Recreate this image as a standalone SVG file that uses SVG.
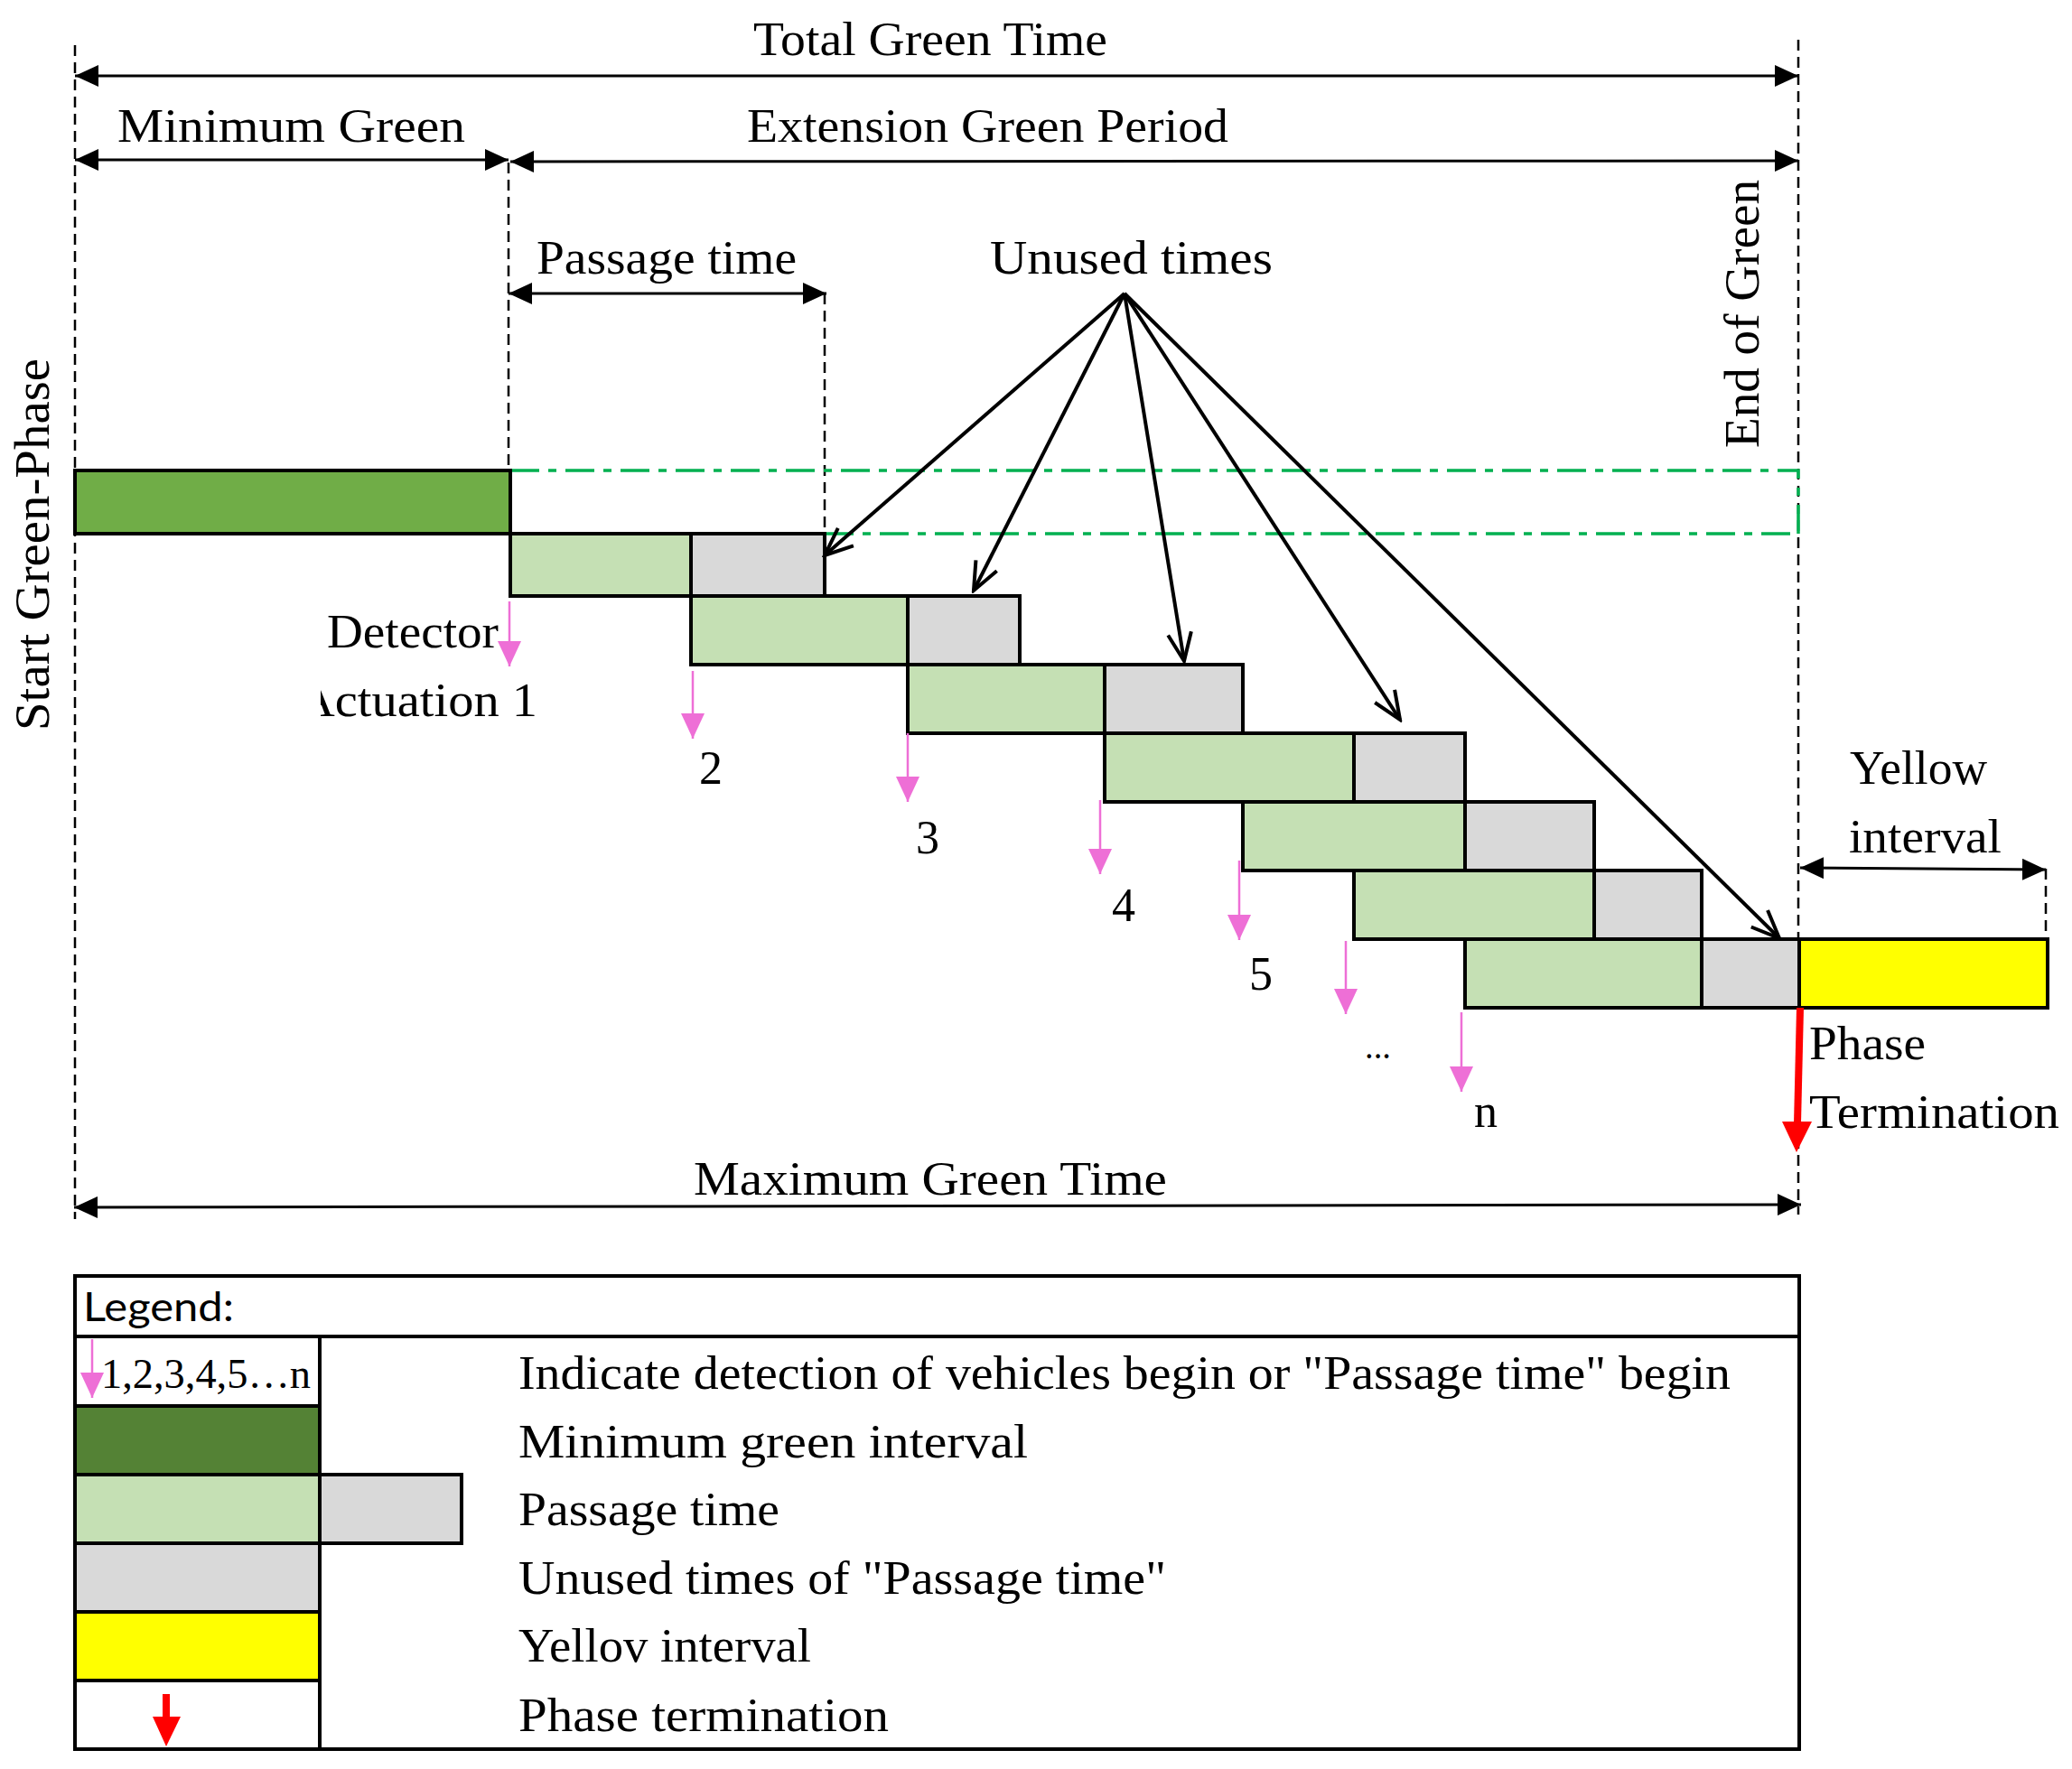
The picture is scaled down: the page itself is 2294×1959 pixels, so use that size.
<svg xmlns="http://www.w3.org/2000/svg" width="2294" height="1959" viewBox="0 0 2294 1959">
<style>
.t{font-family:"Liberation Serif",serif;font-size:52px;fill:#000}
.s{font-family:Lato,"Liberation Sans",sans-serif;font-size:44px;fill:#000}
.blk{stroke:#000;stroke-width:4}
.dg{fill:#70AD47}
.dg2{fill:#548235}
.lg{fill:#C5E0B4}
.gy{fill:#D9D9D9}
.yl{fill:#FFFF00}
.dash{stroke:#000;stroke-width:2.5;stroke-dasharray:12 7;fill:none}
.dd{stroke:#00B050;stroke-width:3.5;stroke-dasharray:32 10 9 10;fill:none}
.dim{stroke:#000;stroke-width:3;fill:none;marker-start:url(#tri);marker-end:url(#tri)}
.ptr{stroke:#000;stroke-width:4;fill:none;marker-end:url(#open)}
.pk{stroke:#EE6FD6;stroke-width:2.5;fill:none;marker-end:url(#pink)}
</style>
<defs>
<marker id="tri" markerUnits="userSpaceOnUse" viewBox="0 0 26 24" refX="26" refY="12" markerWidth="26" markerHeight="24" orient="auto-start-reverse">
<path d="M0,0 L26,12 L0,24 z" fill="#000"/>
</marker>
<marker id="open" markerUnits="userSpaceOnUse" viewBox="0 0 36 30" refX="33" refY="15" markerWidth="36" markerHeight="30" orient="auto">
<path d="M2,2 L33,15 L2,28" fill="none" stroke="#000" stroke-width="4"/>
</marker>
<marker id="pink" markerUnits="userSpaceOnUse" viewBox="0 0 28 26" refX="28" refY="13" markerWidth="28" markerHeight="26" orient="auto">
<path d="M0,0 L28,13 L0,26 z" fill="#EE6FD6"/>
</marker>
<clipPath id="actClip"><rect x="355" y="740" width="300" height="80"/></clipPath>
</defs>

<g id="guides">
<line class="dash" x1="83" y1="50" x2="83" y2="1350"/>
<line class="dash" x1="563" y1="180" x2="563" y2="591"/>
<line class="dash" x1="913" y1="325" x2="913" y2="591"/>
<line class="dash" x1="1991" y1="44" x2="1991" y2="1345"/>
<line class="dash" x1="2265" y1="962" x2="2265" y2="1040"/>
<path class="dd" d="M565,521 H1991 V591 M913,591 H1991"/>
</g>

<g id="minimum-green-bar">
<rect class="dg blk" x="83" y="521" width="482" height="70"/>
</g>

<g id="passage-rows">
<rect class="lg blk" x="565" y="591" width="200" height="69"/><rect class="gy blk" x="765" y="591" width="148" height="69"/>
<rect class="lg blk" x="765" y="660" width="240" height="76"/><rect class="gy blk" x="1005" y="660" width="124" height="76"/>
<rect class="lg blk" x="1005" y="736" width="218" height="76"/><rect class="gy blk" x="1223" y="736" width="153" height="76"/>
<rect class="lg blk" x="1223" y="812" width="276" height="76"/><rect class="gy blk" x="1499" y="812" width="123" height="76"/>
<rect class="lg blk" x="1376" y="888" width="246" height="76"/><rect class="gy blk" x="1622" y="888" width="143" height="76"/>
<rect class="lg blk" x="1499" y="964" width="266" height="76"/><rect class="gy blk" x="1765" y="964" width="119" height="76"/>
<rect class="lg blk" x="1622" y="1040" width="262" height="76"/><rect class="gy blk" x="1884" y="1040" width="108" height="76"/>
</g>

<g id="yellow-bar">
<rect class="yl blk" x="1992" y="1040" width="275" height="76"/>
</g>

<g id="connectors">
<line class="dim" x1="83" y1="84" x2="1991" y2="84"/>
<line class="dim" x1="83" y1="177" x2="563" y2="177"/>
<line class="dim" x1="565" y1="179" x2="1991" y2="178"/>
<line class="dim" x1="563" y1="325" x2="915" y2="325"/>
<line class="dim" x1="1993" y1="961" x2="2265" y2="963"/>
<line class="dim" x1="82" y1="1337" x2="1994" y2="1334"/>
<line class="ptr" x1="1245" y1="325" x2="913" y2="615"/>
<line class="ptr" x1="1245" y1="325" x2="1078" y2="654"/>
<line class="ptr" x1="1245" y1="325" x2="1311" y2="732"/>
<line class="ptr" x1="1245" y1="325" x2="1550" y2="797"/>
<line class="ptr" x1="1245" y1="325" x2="1970" y2="1039"/>
<line class="pk" x1="564" y1="666" x2="564" y2="738"/>
<line class="pk" x1="767" y1="743" x2="767" y2="818"/>
<line class="pk" x1="1005" y1="812" x2="1005" y2="888"/>
<line class="pk" x1="1218" y1="886" x2="1218" y2="968"/>
<line class="pk" x1="1372" y1="953" x2="1372" y2="1041"/>
<line class="pk" x1="1490" y1="1042" x2="1490" y2="1123"/>
<line class="pk" x1="1618" y1="1121" x2="1618" y2="1209"/>
<path d="M1993,1116 L1990,1244" stroke="#FF0000" stroke-width="8" fill="none"/>
<path d="M1973,1242 L2006,1242 L1989,1276 z" fill="#FF0000"/>
</g>

<g id="labels">
<text class="t" x="834" y="61" textLength="392" lengthAdjust="spacingAndGlyphs">Total Green Time</text>
<text class="t" x="130" y="157" textLength="385" lengthAdjust="spacingAndGlyphs">Minimum Green</text>
<text class="t" x="827" y="157" textLength="533" lengthAdjust="spacingAndGlyphs">Extension Green Period</text>
<text class="t" x="594" y="303" textLength="288" lengthAdjust="spacingAndGlyphs">Passage time</text>
<text class="t" x="1096" y="303" textLength="313" lengthAdjust="spacingAndGlyphs">Unused times</text>
<text class="t" transform="translate(1947,496) rotate(-90)" style="font-size:54px" textLength="297" lengthAdjust="spacingAndGlyphs">End of Green</text>
<text class="t" transform="translate(54,809) rotate(-90)" style="font-size:54px" textLength="412" lengthAdjust="spacingAndGlyphs">Start Green-Phase</text>
<text class="t" x="362" y="717" textLength="190" lengthAdjust="spacingAndGlyphs">Detector</text>
<text class="t" x="330" y="793" textLength="265" lengthAdjust="spacingAndGlyphs" clip-path="url(#actClip)">Actuation 1</text>
<text class="t" x="774" y="868">2</text>
<text class="t" x="1014" y="945">3</text>
<text class="t" x="1231" y="1020">4</text>
<text class="t" x="1383" y="1096">5</text>
<text class="t" x="1511" y="1172" style="font-size:40px" textLength="29" lengthAdjust="spacingAndGlyphs">...</text>
<text class="t" x="1632" y="1248">n</text>
<text class="t" x="2048" y="868" textLength="152" lengthAdjust="spacingAndGlyphs">Yellow</text>
<text class="t" x="2047" y="944" textLength="169" lengthAdjust="spacingAndGlyphs">interval</text>
<text class="t" x="2003" y="1173" textLength="129" lengthAdjust="spacingAndGlyphs">Phase</text>
<text class="t" x="2003" y="1249" textLength="277" lengthAdjust="spacingAndGlyphs">Termination</text>
<text class="t" x="768" y="1323" textLength="524" lengthAdjust="spacingAndGlyphs">Maximum Green Time</text>
</g>

<g id="legend">
<rect x="83" y="1413" width="1909" height="524" fill="#fff" class="blk"/>
<line class="blk" x1="83" y1="1480" x2="1992" y2="1480"/>
<line class="blk" x1="354" y1="1480" x2="354" y2="1937"/>
<text class="s" x="92" y="1463" textLength="167" lengthAdjust="spacingAndGlyphs">Legend:</text>
<line class="pk" x1="102" y1="1483" x2="102" y2="1548"/>
<text class="t" x="112" y="1537" style="font-size:46px" textLength="232" lengthAdjust="spacingAndGlyphs">1,2,3,4,5…n</text>
<rect class="dg2 blk" x="83" y="1557" width="271" height="76"/>
<rect class="lg blk" x="83" y="1633" width="271" height="76"/>
<rect class="gy blk" x="354" y="1633" width="157" height="76"/>
<rect class="gy blk" x="83" y="1709" width="271" height="76"/>
<rect class="yl blk" x="83" y="1785" width="271" height="76"/>
<path d="M184,1876 V1902" stroke="#FF0000" stroke-width="8" fill="none"/>
<path d="M169,1901 L200,1901 L184,1934 z" fill="#FF0000"/>
<text class="t" x="574" y="1538" textLength="1342" lengthAdjust="spacingAndGlyphs">Indicate detection of vehicles begin or "Passage time" begin</text>
<text class="t" x="574" y="1614" textLength="564" lengthAdjust="spacingAndGlyphs">Minimum green interval</text>
<text class="t" x="574" y="1689" textLength="289" lengthAdjust="spacingAndGlyphs">Passage time</text>
<text class="t" x="574" y="1765" textLength="717" lengthAdjust="spacingAndGlyphs">Unused times of "Passage time"</text>
<text class="t" x="574" y="1840" textLength="324" lengthAdjust="spacingAndGlyphs">Yellov interval</text>
<text class="t" x="574" y="1917" textLength="410" lengthAdjust="spacingAndGlyphs">Phase termination</text>
</g>
</svg>
